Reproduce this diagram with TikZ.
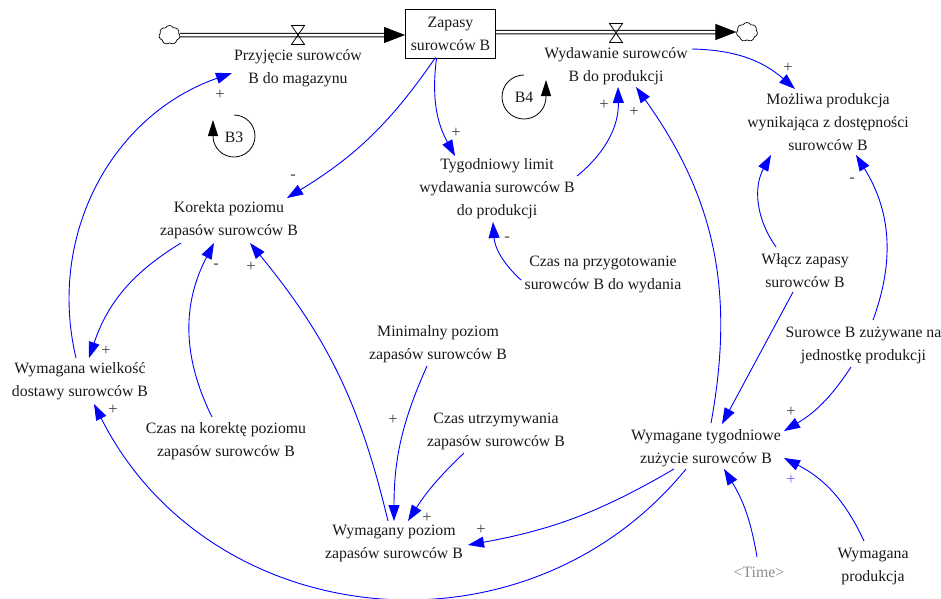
\documentclass[tikz,border=0pt]{standalone}
\usepackage{fontspec}
\setmainfont{Liberation Serif}
\usetikzlibrary{arrows.meta,shapes.symbols}
\definecolor{inktext}{gray}{0.1}
\tikzset{
  varnode/.style = {font=\fontsize{15.8}{23}\selectfont, text=inktext, align=center, inner sep=0pt},
  stocknode/.style = {varnode, draw=black, line width=0.9pt, minimum width=90pt, minimum height=49pt},
  shadownode/.style = {varnode, text=black!45},
  cloudnode/.style = {cloud, cloud puffs=7, cloud puff arc=120, aspect=1, draw=black, fill=white, line width=0.7pt, inner sep=0pt, minimum width=21pt, minimum height=19pt},
  valvenode/.style = {inner sep=0pt, minimum width=15pt, minimum height=21pt, path picture={
    \draw[line width=0.8pt] ([shift={(1pt,1pt)}]path picture bounding box.south west) -- ([shift={(-1pt,-1pt)}]path picture bounding box.north east)
      -- ([shift={(1pt,-1pt)}]path picture bounding box.north west) -- ([shift={(-1pt,1pt)}]path picture bounding box.south east) -- cycle;}},
  signnode/.style = {font=\fontsize{16.5}{16.5}\selectfont, text=black!75, inner sep=0pt},
  flow/.style = {double, line width=1pt, double distance=2.5pt, -{Triangle[length=21pt,width=16pt]}},
  link/.style = {blue, line width=0.9pt, -{Triangle[length=16pt,width=11pt]}},
  looparrow/.style = {black, line width=0.8pt, -{Triangle[length=16pt,width=10pt]}},
}
\begin{document}
\begin{tikzpicture}[x=1pt, y=-1pt]
\useasboundingbox (0,0) rectangle (941,598);

% Stock and flows
\node[stocknode] (zapasy) at (450.5,33.5) {Zapasy\\surowców B};
\node[cloudnode] (cloudin) at (169.5,35) {};
\node[cloudnode] (cloudout) at (747,32) {};
\draw[flow] (cloudin) -- (cloudin -| zapasy.west);
\draw[flow] (cloudout -| zapasy.east) -- (cloudout.west);
\node[valvenode] (valvein) at (298,35) {};
\node[valvenode] (valveout) at (616,33) {};

% Variables
\node[varnode] (przyjecie) at (298,68) {Przyjęcie surowców\\B do magazynu};
\node[varnode] (wydawanie) at (616,66) {Wydawanie surowców\\B do produkcji};
\node[varnode] (mozliwa) at (828,122) {Możliwa produkcja\\wynikająca z dostępności\\surowców B};
\node[varnode] (limit) at (497,189) {Tygodniowy limit\\wydawania surowców B\\do produkcji};
\node[varnode] (korekta) at (229,220) {Korekta poziomu\\zapasów surowców B};
\node[varnode] (czasprzyg) at (603,274) {Czas na przygotowanie\\surowców B do wydania};
\node[varnode] (wlacz) at (805,271) {Włącz zapasy\\surowców B};
\node[varnode] (surowce) at (863.5,345) {Surowce B zużywane na\\jednostkę produkcji};
\node[varnode] (minimalny) at (438,344) {Minimalny poziom\\zapasów surowców B};
\node[varnode] (wielkosc) at (80,381) {Wymagana wielkość\\dostawy surowców B};
\node[varnode] (czaskor) at (226,441) {Czas na korektę poziomu\\zapasów surowców B};
\node[varnode] (czasutrz) at (496,431) {Czas utrzymywania\\zapasów surowców B};
\node[varnode] (wymagany) at (394,543) {Wymagany poziom\\zapasów surowców B};
\node[varnode] (zuzycie) at (706,448) {Wymagane tygodniowe\\zużycie surowców B};
\node[shadownode] (timevar) at (759,572) {<Time>};
\node[varnode] (produkcja) at (873,566) {Wymagana\\produkcja};

% Links
\draw[link] ([shift={(-4,-23)}]wielkosc.center) to[bend left=42] ([shift={(-66,5)}]przyjecie.center);
\draw[link] ([shift={(-15,24)}]zapasy.center) to[bend left=12] ([shift={(58,-22)}]korekta.center);
\draw[link] ([shift={(-14,25)}]zapasy.center) to[bend right=18] ([shift={(-42,-33)}]limit.center);
\draw[link] ([shift={(76,-17)}]wydawanie.center) to[bend left=20] ([shift={(-33,-33)}]mozliwa.center);
\draw[link] ([shift={(80,-13)}]limit.center) to[bend right=26] ([shift={(2,21)}]wydawanie.center);
\draw[link] ([shift={(5,-25)}]zuzycie.center) to[bend right=23] ([shift={(20,21)}]wydawanie.center);
\draw[link] ([shift={(-29,-24)}]wlacz.center) to[bend left=32] ([shift={(-57,33)}]mozliwa.center);
\draw[link] ([shift={(9.5,-25)}]surowce.center) to[bend right=26] ([shift={(28,33)}]mozliwa.center);
\draw[link] ([shift={(-12,21)}]wlacz.center) -- ([shift={(16,-24)}]zuzycie.center);
\draw[link] ([shift={(-12.5,22)}]surowce.center) to[bend left=13] ([shift={(78,-17)}]zuzycie.center);
\draw[link] ([shift={(-9,-25)}]produkcja.center) to[bend right=19] ([shift={(78,10)}]zuzycie.center);
\draw[link] ([shift={(-2,-15)}]timevar.center) to[bend right=11] ([shift={(18,21)}]zuzycie.center);
\draw[link] ([shift={(-32,21)}]zuzycie.center) to[bend left=10] ([shift={(74,2)}]wymagany.center);
\draw[link] ([shift={(-20,21)}]zuzycie.center) to[bend left=57, looseness=1.1] ([shift={(14,23)}]wielkosc.center);
\draw[link] ([shift={(-14,-24)}]czaskor.center) to[bend left=27] ([shift={(-15,23)}]korekta.center);
\draw[link] ([shift={(-48,23)}]korekta.center) to[bend right=20] ([shift={(9,-23)}]wielkosc.center);
\draw[link] ([shift={(-6,-22)}]wymagany.center) to[bend right=13] ([shift={(21,23)}]korekta.center);
\draw[link] ([shift={(-11,22)}]minimalny.center) to[bend right=12] ([shift={(0,-22)}]wymagany.center);
\draw[link] ([shift={(-32,22)}]czasutrz.center) to[bend right=7] ([shift={(14,-22)}]wymagany.center);
\draw[link] ([shift={(-82,6)}]czasprzyg.center) to[bend left=22] ([shift={(-4,33)}]limit.center);

% Loop markers
\node[varnode] (bthree) at (234,137) {B3};
\node[varnode] (bfour) at (524,97) {B4};
\draw[looparrow] ([shift={(0,-22)}]bthree.center) arc[start angle=-90, end angle=180, radius=21] -- ++(0,-16);
\draw[looparrow] ([shift={(0,-22)}]bfour.center) arc[start angle=-90, end angle=-360, radius=22] -- ++(0,-17);

% Signs
\node[signnode] (sa) at (220,95) {+};
\node[signnode] (sb) at (456,133) {+};
\node[signnode] (sc) at (293,177) {-};
\node[signnode] (sd) at (788,68) {+};
\node[signnode] (se) at (604,105) {+};
\node[signnode] (sf) at (634,112) {+};
\node[signnode] (sg) at (852,180) {-};
\node[signnode] (sh) at (507,239) {-};
\node[signnode] (si) at (216,266) {-};
\node[signnode] (sj) at (251,267) {+};
\node[signnode] (sk) at (106,351) {+};
\node[signnode] (sl) at (113,410) {+};
\node[signnode] (sm) at (393,420) {+};
\node[signnode] (sn) at (427,518) {+};
\node[signnode] (so) at (481,530) {+};
\node[signnode] (sp) at (791,412) {+};
\node[signnode, text=blue!60] (sq) at (791,480) {+};
\end{tikzpicture}
\end{document}
